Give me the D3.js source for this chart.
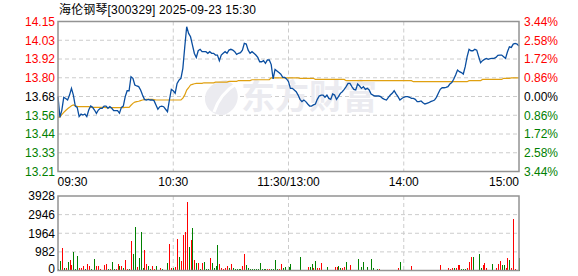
<!DOCTYPE html>
<html><head><meta charset="utf-8">
<script src="https://cdn.jsdelivr.net/npm/d3@7/dist/d3.min.js"></script>
<style>
html,body{margin:0;padding:0;background:#fff;}
svg{display:block;}
text{font-family:"Liberation Sans",Arial,"Noto Sans CJK SC",sans-serif;}
</style></head>
<body>
<svg id="c" width="578" height="276"></svg>
<script>
const title = "海伦钢琴[300329] 2025-09-23 15:30";
const preClose = 13.68;
const priceLabels = ["14.15","14.03","13.92","13.80","13.68","13.56","13.44","13.33","13.21"];
const pctSteps = [3.44,2.58,1.72,0.86,0,-0.86,-1.72,-2.58,-3.44];
const pctLabels = ["3.44%","2.58%","1.72%","0.86%","0.00%","0.86%","1.72%","2.58%","3.44%"];
const timeLabels = ["09:30","10:30","11:30/13:00","14:00","15:00"];
const timeTickMinutes = [0,60,120,180,240];
const volLabels = ["3928","2946","1964","982","0"];
const volTicks = [3928,2946,1964,982,0];

const price = [
13.68,13.55,13.595,13.675,13.668,13.658,13.689,13.731,13.689,13.62,
13.612,13.554,13.57,13.564,13.57,13.554,13.595,13.62,13.612,13.595,
13.574,13.595,13.606,13.606,13.62,13.62,13.606,13.616,13.606,13.591,
13.591,13.591,13.575,13.612,13.62,13.679,13.716,13.716,13.804,13.794,
13.752,13.746,13.742,13.721,13.689,13.662,13.658,13.662,13.658,13.658,
13.654,13.627,13.6,13.616,13.62,13.616,13.6,13.585,13.658,13.725,
13.716,13.70,13.762,13.783,13.794,13.857,13.992,14.118,14.076,14.055,
14.003,13.95,13.925,13.967,13.976,13.961,13.961,13.961,13.951,13.961,
13.951,13.951,13.94,13.94,13.905,13.94,13.951,13.961,13.951,13.971,
13.976,13.971,13.961,13.944,13.951,13.955,13.971,14.013,14.009,13.971,
13.951,13.961,13.951,13.94,13.925,13.898,13.898,13.905,13.888,13.909,
13.909,13.88,13.79,13.85,13.84,13.83,13.82,13.80,13.80,13.79,
13.773,13.731,13.731,13.721,13.71,13.689,13.662,13.648,13.658,13.648,
13.633,13.62,13.62,13.627,13.633,13.662,13.683,13.689,13.689,13.675,
13.689,13.668,13.662,13.696,13.689,13.662,13.679,13.70,13.71,13.725,
13.742,13.762,13.762,13.742,13.725,13.721,13.758,13.746,13.731,13.742,
13.725,13.731,13.721,13.696,13.689,13.683,13.683,13.683,13.679,13.668,
13.662,13.658,13.675,13.689,13.70,13.716,13.696,13.679,13.658,13.668,
13.675,13.679,13.679,13.675,13.668,13.668,13.662,13.648,13.648,13.652,
13.641,13.633,13.637,13.641,13.648,13.652,13.658,13.675,13.70,13.725,
13.735,13.735,13.737,13.742,13.758,13.767,13.788,13.815,13.846,13.836,
13.83,13.821,13.867,13.93,13.976,13.967,13.967,13.976,13.971,13.93,
13.892,13.905,13.913,13.919,13.913,13.917,13.919,13.919,13.925,13.938,
13.94,13.94,13.93,13.919,13.961,13.992,13.988,14.009,14.013,14.009,
13.996];

const avgPrice = [
13.55,13.55,13.567,13.58,13.592,13.603,13.612,13.622,13.627,13.622,
13.618,13.616,13.616,13.616,13.616,13.616,13.616,13.612,13.612,13.612,
13.612,13.612,13.612,13.612,13.612,13.61,13.61,13.61,13.61,13.61,
13.61,13.61,13.61,13.61,13.61,13.612,13.612,13.612,13.625,13.637,
13.645,13.648,13.65,13.654,13.658,13.66,13.662,13.662,13.662,13.662,
13.66,13.658,13.658,13.658,13.658,13.658,13.658,13.658,13.658,13.658,
13.658,13.658,13.658,13.658,13.658,13.67,13.69,13.72,13.735,13.752,
13.756,13.76,13.762,13.762,13.762,13.762,13.766,13.766,13.766,13.766,
13.766,13.766,13.77,13.77,13.77,13.77,13.77,13.77,13.77,13.775,
13.775,13.775,13.775,13.775,13.78,13.78,13.78,13.78,13.78,13.78,
13.78,13.785,13.785,13.785,13.785,13.785,13.785,13.785,13.785,13.785,
13.785,13.797,13.797,13.797,13.797,13.797,13.797,13.797,13.797,13.797,
13.797,13.797,13.797,13.797,13.797,13.797,13.794,13.794,13.794,13.794,
13.794,13.794,13.794,13.794,13.787,13.787,13.787,13.787,13.787,13.787,
13.787,13.787,13.787,13.787,13.787,13.787,13.787,13.787,13.787,13.787,
13.779,13.779,13.779,13.779,13.779,13.779,13.779,13.779,13.779,13.779,
13.779,13.779,13.779,13.779,13.779,13.779,13.779,13.779,13.779,13.779,
13.779,13.779,13.779,13.779,13.779,13.779,13.779,13.779,13.779,13.779,
13.779,13.779,13.779,13.779,13.779,13.773,13.773,13.773,13.773,13.773,
13.773,13.773,13.773,13.773,13.773,13.773,13.773,13.773,13.773,13.773,
13.773,13.773,13.773,13.773,13.773,13.773,13.773,13.773,13.773,13.773,
13.773,13.773,13.773,13.773,13.779,13.779,13.779,13.779,13.779,13.779,
13.779,13.787,13.787,13.787,13.787,13.787,13.787,13.787,13.787,13.787,
13.787,13.787,13.794,13.794,13.794,13.794,13.797,13.797,13.797,13.797,
13.797];

const volume = [
100,478,1204,143,143,443,566,265,956,80,
743,106,143,248,80,320,212,80,40,619,
212,212,80,40,265,320,80,80,425,80,
80,320,212,212,106,531,80,80,1540,850,
2283,160,637,2018,106,1062,320,212,80,212,
80,212,40,106,80,40,40,390,1381,143,
143,177,1646,708,478,1858,2035,3611,1239,1593,
2248,531,390,390,80,390,425,80,80,637,
390,106,212,1327,320,106,80,106,212,143,
320,143,80,80,80,80,212,885,265,106,
80,60,60,60,80,390,80,60,60,60,
60,80,80,531,80,80,320,143,177,40,
177,320,40,40,40,40,690,40,40,40,
160,160,320,106,478,106,106,372,40,40,
160,40,40,40,160,160,212,106,106,160,
425,40,265,40,40,40,584,40,160,425,
40,160,40,584,106,40,60,60,40,40,
40,40,40,40,40,40,40,143,425,40,
40,40,40,40,212,40,40,40,40,40,
40,40,40,40,40,40,40,40,40,265,
40,40,40,143,60,106,106,143,265,265,
60,60,60,106,425,690,690,40,40,850,
106,265,372,106,40,40,320,40,106,320,
478,265,265,106,637,531,143,2708,60,40,
637];

// 1 = red (up), 0 = green (down)
const volUp = [
0,0,1,0,1,0,1,1,0,0,
0,1,1,1,0,1,1,0,0,0,
1,1,1,1,1,1,0,1,0,0,
1,1,0,1,0,1,1,0,1,0,
0,1,0,0,0,1,1,0,0,1,
1,0,0,1,0,0,1,0,1,1,
0,1,1,0,1,1,1,1,0,1,
0,1,0,1,0,1,0,0,0,1,
0,0,0,0,1,1,1,1,1,0,
1,0,0,0,0,0,1,1,0,0,
0,0,0,0,0,0,0,0,0,1,
1,0,0,0,0,1,1,0,0,1,
0,0,0,0,0,0,0,0,0,0,
1,0,0,1,0,1,1,1,1,1,
0,0,1,1,1,1,0,0,1,1,
0,0,1,0,0,1,0,0,0,0,
1,0,1,0,0,1,0,1,1,0,
0,0,1,1,1,1,1,1,0,1,
1,1,1,1,1,0,0,0,0,0,
0,0,0,0,0,0,1,1,1,1,
0,1,1,1,1,1,0,1,1,1,
0,0,0,1,1,1,0,1,0,0,
0,1,1,1,1,0,0,1,1,1,
1,0,0,1,1,0,1,1,1,0,
0];

const svg = d3.select("#c");
const L = 58, R = 519, T = 21.5, B = 171.5, VT = 196, VB = 270.5;
const red = "#ff0000", green = "#008000", gridC = "#cccccc", frameC = "#939393";

const x = d3.scaleLinear().domain([0, 240]).range([L, R]);
const pMin = preClose * (1 + pctSteps[8] / 100), pMax = preClose * (1 + pctSteps[0] / 100);
const y = d3.scaleLinear().domain([pMin, pMax]).range([B, T]);
const yv = d3.scaleLinear().domain([0, volTicks[0]]).range([VB, VT]);

// title
svg.append("text").attr("x", 59).attr("y", 13.5).attr("font-size", 12).attr("fill", "#000")
  .attr("textLength", 197).attr("lengthAdjust", "spacing").text(title);

// grid price
const gridVals = pctSteps.map(p => preClose * (1 + p / 100));
svg.append("g").selectAll("line").data(gridVals.slice(1, 8)).join("line")
  .attr("x1", L).attr("x2", R).attr("y1", d => y(d)).attr("y2", d => y(d))
  .attr("stroke", gridC).attr("stroke-dasharray", "4,3").attr("stroke-width", 1);
svg.append("g").selectAll("line").data([60, 120, 180]).join("line")
  .attr("x1", d => x(d)).attr("x2", d => x(d)).attr("y1", T).attr("y2", B)
  .attr("stroke", gridC).attr("stroke-dasharray", "4,3");

// volume grid
svg.append("g").selectAll("line").data(volTicks.slice(1, 4)).join("line")
  .attr("x1", L).attr("x2", R).attr("y1", d => yv(d)).attr("y2", d => yv(d))
  .attr("stroke", gridC).attr("stroke-dasharray", "4,3");
svg.append("g").selectAll("line").data([60, 120, 180]).join("line")
  .attr("x1", d => x(d)).attr("x2", d => x(d)).attr("y1", VT).attr("y2", VB)
  .attr("stroke", gridC).attr("stroke-dasharray", "4,3");

// watermark
const wm = svg.append("g");
wm.append("path")
  .attr("d", "M226,80 C242,86 242,108 224,115 C210,116 202,104 206,93 C209,86 216,81 226,80 Z")
  .attr("fill", "#ebebf0");
wm.append("path")
  .attr("d", "M214,112 C218,100 226,90 236,84")
  .attr("fill", "none").attr("stroke", "#fff").attr("stroke-width", 3);
wm.append("text").attr("x", 241).attr("y", 109).attr("font-size", 34).attr("font-weight", "bold")
  .attr("font-family", "'Noto Sans CJK SC',sans-serif").attr("fill", "#ebebf0")
  .text("东方财富");

// volume bars
svg.append("g").selectAll("rect").data(volume).join("rect")
  .attr("x", (d, i) => Math.round(x(i)) - 0.5).attr("width", 1.2)
  .attr("y", d => yv(d)).attr("height", d => VB - yv(d))
  .attr("fill", (d, i) => volUp[i] ? red : green).attr("shape-rendering", "crispEdges");

// avg line
svg.append("path").datum(avgPrice)
  .attr("d", d3.line().x((d, i) => x(i)).y(d => y(d)))
  .attr("fill", "none").attr("stroke", "#e0a010").attr("stroke-width", 1.2);

// price line
svg.append("path").datum(price)
  .attr("d", d3.line().x((d, i) => x(i)).y(d => y(d)))
  .attr("fill", "none").attr("stroke", "#0a4ea0").attr("stroke-width", 1.3);

// frames
svg.append("rect").attr("x", L).attr("y", T).attr("width", R - L).attr("height", B - T)
  .attr("fill", "none").attr("stroke", frameC).attr("stroke-width", 1.5);
svg.append("rect").attr("x", L).attr("y", VT).attr("width", R - L).attr("height", VB - VT)
  .attr("fill", "none").attr("stroke", frameC).attr("stroke-width", 1.5);

// left labels
const colFor = i => i < 4 ? red : (i === 4 ? "#000" : green);
svg.append("g").selectAll("text").data(priceLabels).join("text")
  .attr("x", 55).attr("y", (d, i) => y(gridVals[i]) + 4.3).attr("text-anchor", "end")
  .attr("font-size", 12).attr("fill", (d, i) => colFor(i)).text(d => d);
// right labels
svg.append("g").selectAll("text").data(pctLabels).join("text")
  .attr("x", 524).attr("y", (d, i) => y(gridVals[i]) + 4.3).attr("text-anchor", "start")
  .attr("font-size", 12).attr("fill", (d, i) => colFor(i)).text(d => d);
// time labels
const anchors = ["start", "middle", "middle", "middle", "end"];
svg.append("g").selectAll("text").data(timeLabels).join("text")
  .attr("x", (d, i) => x(timeTickMinutes[i]) + (i === 0 ? -0.5 : 0))
  .attr("y", 186).attr("text-anchor", (d, i) => anchors[i])
  .attr("font-size", 12).attr("fill", "#000").text(d => d);
// volume labels
svg.append("g").selectAll("text").data(volLabels).join("text")
  .attr("x", 55).attr("y", (d, i) => Math.min(yv(volTicks[i]) + 4.3, 273.2)).attr("text-anchor", "end")
  .attr("font-size", 12).attr("fill", "#000").text(d => d);
</script>
</body></html>
